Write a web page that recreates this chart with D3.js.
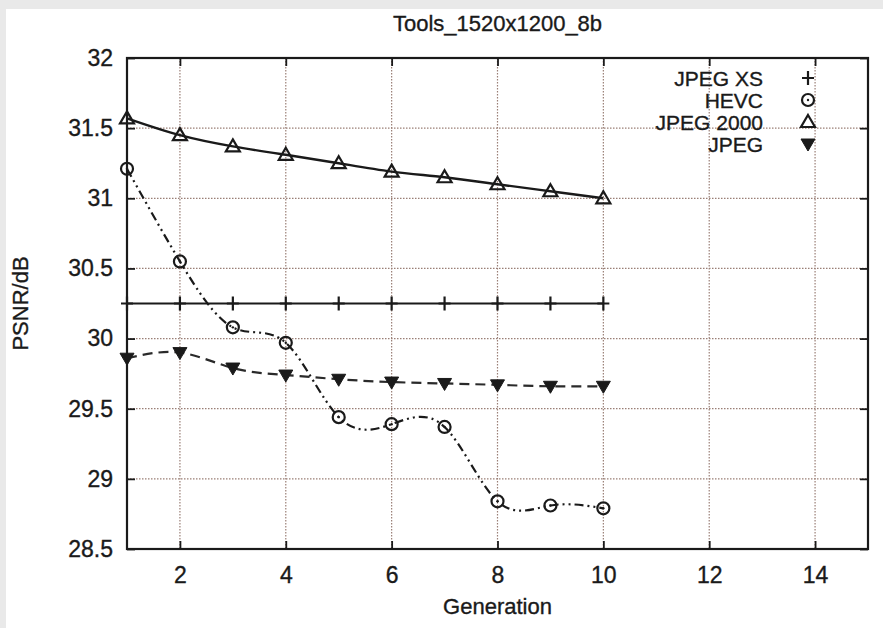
<!DOCTYPE html>
<html lang="en">
<head>
<meta charset="utf-8">
<title>Tools_1520x1200_8b</title>
<script src="https://d3js.org/d3.v7.min.js"></script>
<style>
body { margin: 0; background: #e9e9e9; }
svg { display: block; }
text { font-family: "Liberation Sans", Arial, Helvetica, sans-serif; fill: #1a1a1a; stroke: #1a1a1a; stroke-width: 0.35px; }
</style>
</head>
<body>
<div id="container"></div>
<script>
const generations = [1, 2, 3, 4, 5, 6, 7, 8, 9, 10];
const jpegXs = [30.25, 30.25, 30.25, 30.25, 30.25, 30.25, 30.25, 30.25, 30.25, 30.25];
const hevc = [31.21, 30.55, 30.08, 29.97, 29.44, 29.39, 29.37, 28.84, 28.81, 28.79];
const jpeg2000 = [31.57, 31.45, 31.37, 31.31, 31.25, 31.19, 31.15, 31.10, 31.05, 31.00];
const jpeg = [29.86, 29.90, 29.79, 29.74, 29.71, 29.69, 29.68, 29.67, 29.66, 29.66];
const seriesNames = ["JPEG XS", "HEVC", "JPEG 2000", "JPEG"];
const xTicks = [2, 4, 6, 8, 10, 12, 14];
const yTicks = [28.5, 29, 29.5, 30, 30.5, 31, 31.5, 32];

const width = 883, height = 628;
const pLeft = 127, pRight = 868, pTop = 58, pBottom = 549;

const svg = d3.select("#container").append("svg")
    .attr("width", width)
    .attr("height", height);

// white panel over grey frame
svg.append("rect")
    .attr("x", 6).attr("y", 9)
    .attr("width", width - 6).attr("height", height - 9)
    .attr("fill", "#ffffff");

const x = d3.scaleLinear().domain([1, 15]).range([pLeft, pRight]);
const y = d3.scaleLinear().domain([28.5, 32]).range([pBottom, pTop]);

// grid
const grid = svg.append("g").attr("stroke", "#9a7f76").attr("stroke-width", 1.2)
    .attr("stroke-dasharray", "1.5,1.5");
grid.selectAll("line.v").data(xTicks).enter().append("line")
    .attr("x1", d => x(d)).attr("x2", d => x(d))
    .attr("y1", pTop).attr("y2", pBottom);
grid.selectAll("line.h").data(yTicks.slice(1, -1)).enter().append("line")
    .attr("x1", pLeft).attr("x2", pRight)
    .attr("y1", d => y(d)).attr("y2", d => y(d));

// axes (gnuplot style: ticks inward, mirrored)
const axisBottom = d3.axisBottom(x).tickValues(xTicks).tickSizeInner(-8).tickSizeOuter(0).tickPadding(18);
const axisLeft = d3.axisLeft(y).tickValues(yTicks).tickSizeInner(-8).tickSizeOuter(0).tickPadding(14)
    .tickFormat(d3.format("~g"));
const axisTop = d3.axisTop(x).tickValues(xTicks).tickSizeInner(-8).tickSizeOuter(0).tickFormat("");
const axisRight = d3.axisRight(y).tickValues(yTicks).tickSizeInner(-8).tickSizeOuter(0).tickFormat("");

function styleAxis(g) {
    g.attr("font-size", null).attr("font-family", null);
    g.select(".domain").remove();
    g.selectAll(".tick line").attr("stroke", "#1a1a1a").attr("stroke-width", 1.8);
    g.selectAll(".tick text").style("font-size", "23px").attr("fill", "#1a1a1a");
}
svg.append("g").attr("transform", `translate(0,${pBottom})`).call(axisBottom).call(styleAxis);
svg.append("g").attr("transform", `translate(${pLeft},0)`).call(axisLeft).call(styleAxis);
svg.append("g").attr("transform", `translate(0,${pTop})`).call(axisTop).call(styleAxis);
svg.append("g").attr("transform", `translate(${pRight},0)`).call(axisRight).call(styleAxis);

svg.append("rect")
    .attr("x", pLeft).attr("y", pTop)
    .attr("width", pRight - pLeft).attr("height", pBottom - pTop)
    .attr("fill", "none").attr("stroke", "#1a1a1a").attr("stroke-width", 2.2);

// titles
svg.append("text").attr("x", (pLeft + pRight) / 2).attr("y", 31)
    .attr("text-anchor", "middle").attr("font-size", 22).text("Tools_1520x1200_8b");
svg.append("text").attr("x", (pLeft + pRight) / 2).attr("y", 614)
    .attr("text-anchor", "middle").attr("font-size", 22).text("Generation");
svg.append("text")
    .attr("transform", `translate(28,${(pTop + pBottom) / 2}) rotate(-90)`)
    .attr("text-anchor", "middle").attr("font-size", 22).text("PSNR/dB");

const toPts = vals => generations.map((g, i) => ({ g: g, v: vals[i] }));
const lineStraight = d3.line().x(d => x(d.g)).y(d => y(d.v));
const lineSmooth = d3.line().x(d => x(d.g)).y(d => y(d.v)).curve(d3.curveNatural);

const ink = "#1a1a1a";

// JPEG XS
svg.append("path").attr("d", lineStraight(toPts(jpegXs)))
    .attr("fill", "none").attr("stroke", ink).attr("stroke-width", 2.2);
// JPEG 2000
svg.append("path").attr("d", lineSmooth(toPts(jpeg2000)))
    .attr("fill", "none").attr("stroke", ink).attr("stroke-width", 2.4);
// HEVC
svg.append("path").attr("d", lineSmooth(toPts(hevc)))
    .attr("fill", "none").attr("stroke", ink).attr("stroke-width", 2.2)
    .attr("stroke-dasharray", "9,4,2,4,2,4");
// JPEG
svg.append("path").attr("d", lineSmooth(toPts(jpeg)))
    .attr("fill", "none").attr("stroke", "#2a2a2a").attr("stroke-width", 2.2)
    .attr("stroke-dasharray", "10,6");

function drawPlus(g, cx, cy) {
    g.append("path").attr("d", `M${cx - 6},${cy}H${cx + 6}M${cx},${cy - 7}V${cy + 7}`)
        .attr("stroke", ink).attr("stroke-width", 2.2).attr("fill", "none");
}
function drawCircle(g, cx, cy) {
    g.append("circle").attr("cx", cx).attr("cy", cy).attr("r", 6)
        .attr("fill", "none").attr("stroke", ink).attr("stroke-width", 2.2);
    g.append("circle").attr("cx", cx).attr("cy", cy).attr("r", 1.2)
        .attr("fill", ink);
}
function drawTri(g, cx, cy) {
    g.append("path").attr("d", `M${cx},${cy - 7}L${cx + 7},${cy + 5}L${cx - 7},${cy + 5}Z`)
        .attr("fill", "none").attr("stroke", ink).attr("stroke-width", 2.2);
}
function drawTriDown(g, cx, cy) {
    g.append("path").attr("d", `M${cx},${cy + 7}L${cx + 7},${cy - 5}L${cx - 7},${cy - 5}Z`)
        .attr("fill", ink).attr("stroke", ink).attr("stroke-width", 1);
}
const markers = [drawPlus, drawCircle, drawTri, drawTriDown];
const allSeries = [jpegXs, hevc, jpeg2000, jpeg];

const mk = svg.append("g");
allSeries.forEach((vals, s) => {
    toPts(vals).forEach(p => markers[s](mk, x(p.g), y(p.v)));
});

// legend
const legend = svg.append("g");
seriesNames.forEach((name, i) => {
    const ly = 78 + i * 22;
    legend.append("text").attr("x", 763).attr("y", ly).attr("dy", "0.36em")
        .attr("text-anchor", "end").attr("font-size", 21).text(name);
    markers[i](legend, 808, ly);
});
</script>
</body>
</html>
